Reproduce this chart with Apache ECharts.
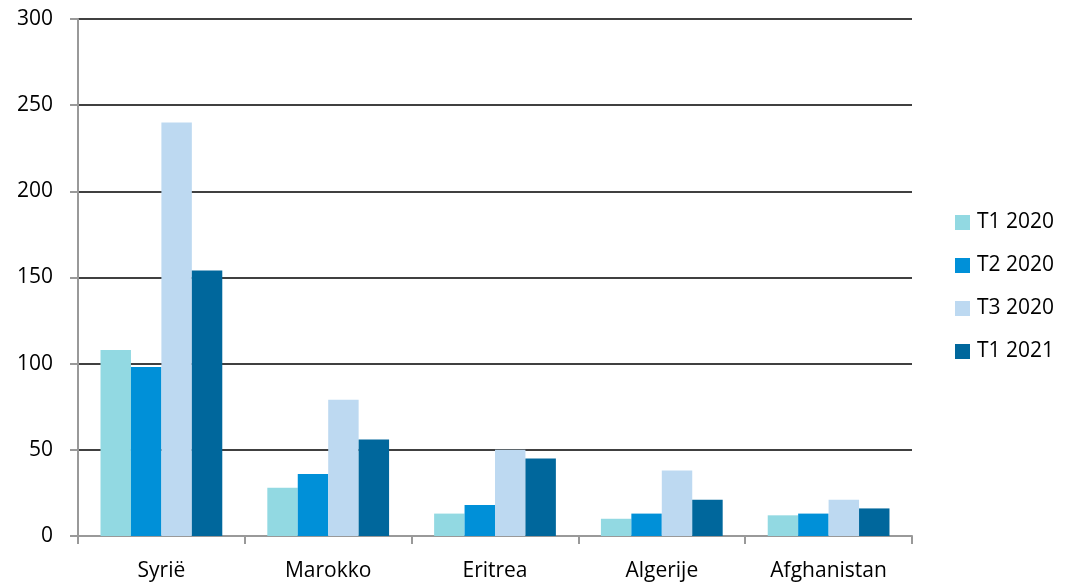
<!DOCTYPE html>
<html><head><meta charset="utf-8">
<script src="https://cdn.jsdelivr.net/npm/echarts@6/dist/echarts.min.js"></script>
<style>html,body{margin:0;padding:0;background:#fff}#c{width:1066px;height:584px}</style>
</head><body><div id="c"></div>
<script>
const categories = ['Syrië','Marokko','Eritrea','Algerije','Afghanistan'];
const seriesNames = ['T1 2020','T2 2020','T3 2020','T1 2021'];
const t1_2020 = [108, 28, 13, 10, 12];
const t2_2020 = [98, 36, 18, 13, 13];
const t3_2020 = [240, 79, 50, 38, 21];
const t1_2021 = [154, 56, 45, 21, 16];
const colors = ['#92D9E2','#0090D8','#BDD9F1','#00679C'];
const allData = [t1_2020, t2_2020, t3_2020, t1_2021];
const font = '"Open Sans", Lato, sans-serif';
const chart = echarts.init(document.getElementById('c'));
chart.setOption({
  animation:false,
  color: colors,
  grid:{left:78, right:154, top:19, bottom:48, containLabel:false},
  legend:{orient:'vertical', left:955, top:212, itemWidth:15, itemHeight:15, itemGap:22,
    icon:'rect', data: seriesNames, padding:0,
    textStyle:{fontFamily:font, fontSize:21, color:'#000', padding:[0,0,0,2]}},
  xAxis:{type:'category', data:categories,
    axisLine:{lineStyle:{color:'#999', width:2}},
    axisTick:{show:true, length:8, lineStyle:{color:'#999', width:2}},
    axisLabel:{fontFamily:font, fontSize:21, color:'#000', margin:25}},
  yAxis:{type:'value', min:0, max:300, interval:50,
    axisLine:{show:true, lineStyle:{color:'#999', width:2}},
    axisTick:{show:true, length:8, lineStyle:{color:'#999', width:2}},
    splitLine:{lineStyle:{color:'#000', width:1.5}},
    axisLabel:{fontFamily:font, fontSize:21, color:'#000', margin:25}},
  series: seriesNames.map((n,i)=>({name:n, type:'bar', data:allData[i],
    barGap:'0%', barCategoryGap:'27%', itemStyle:{color:colors[i]}}))
});
</script></body></html>
